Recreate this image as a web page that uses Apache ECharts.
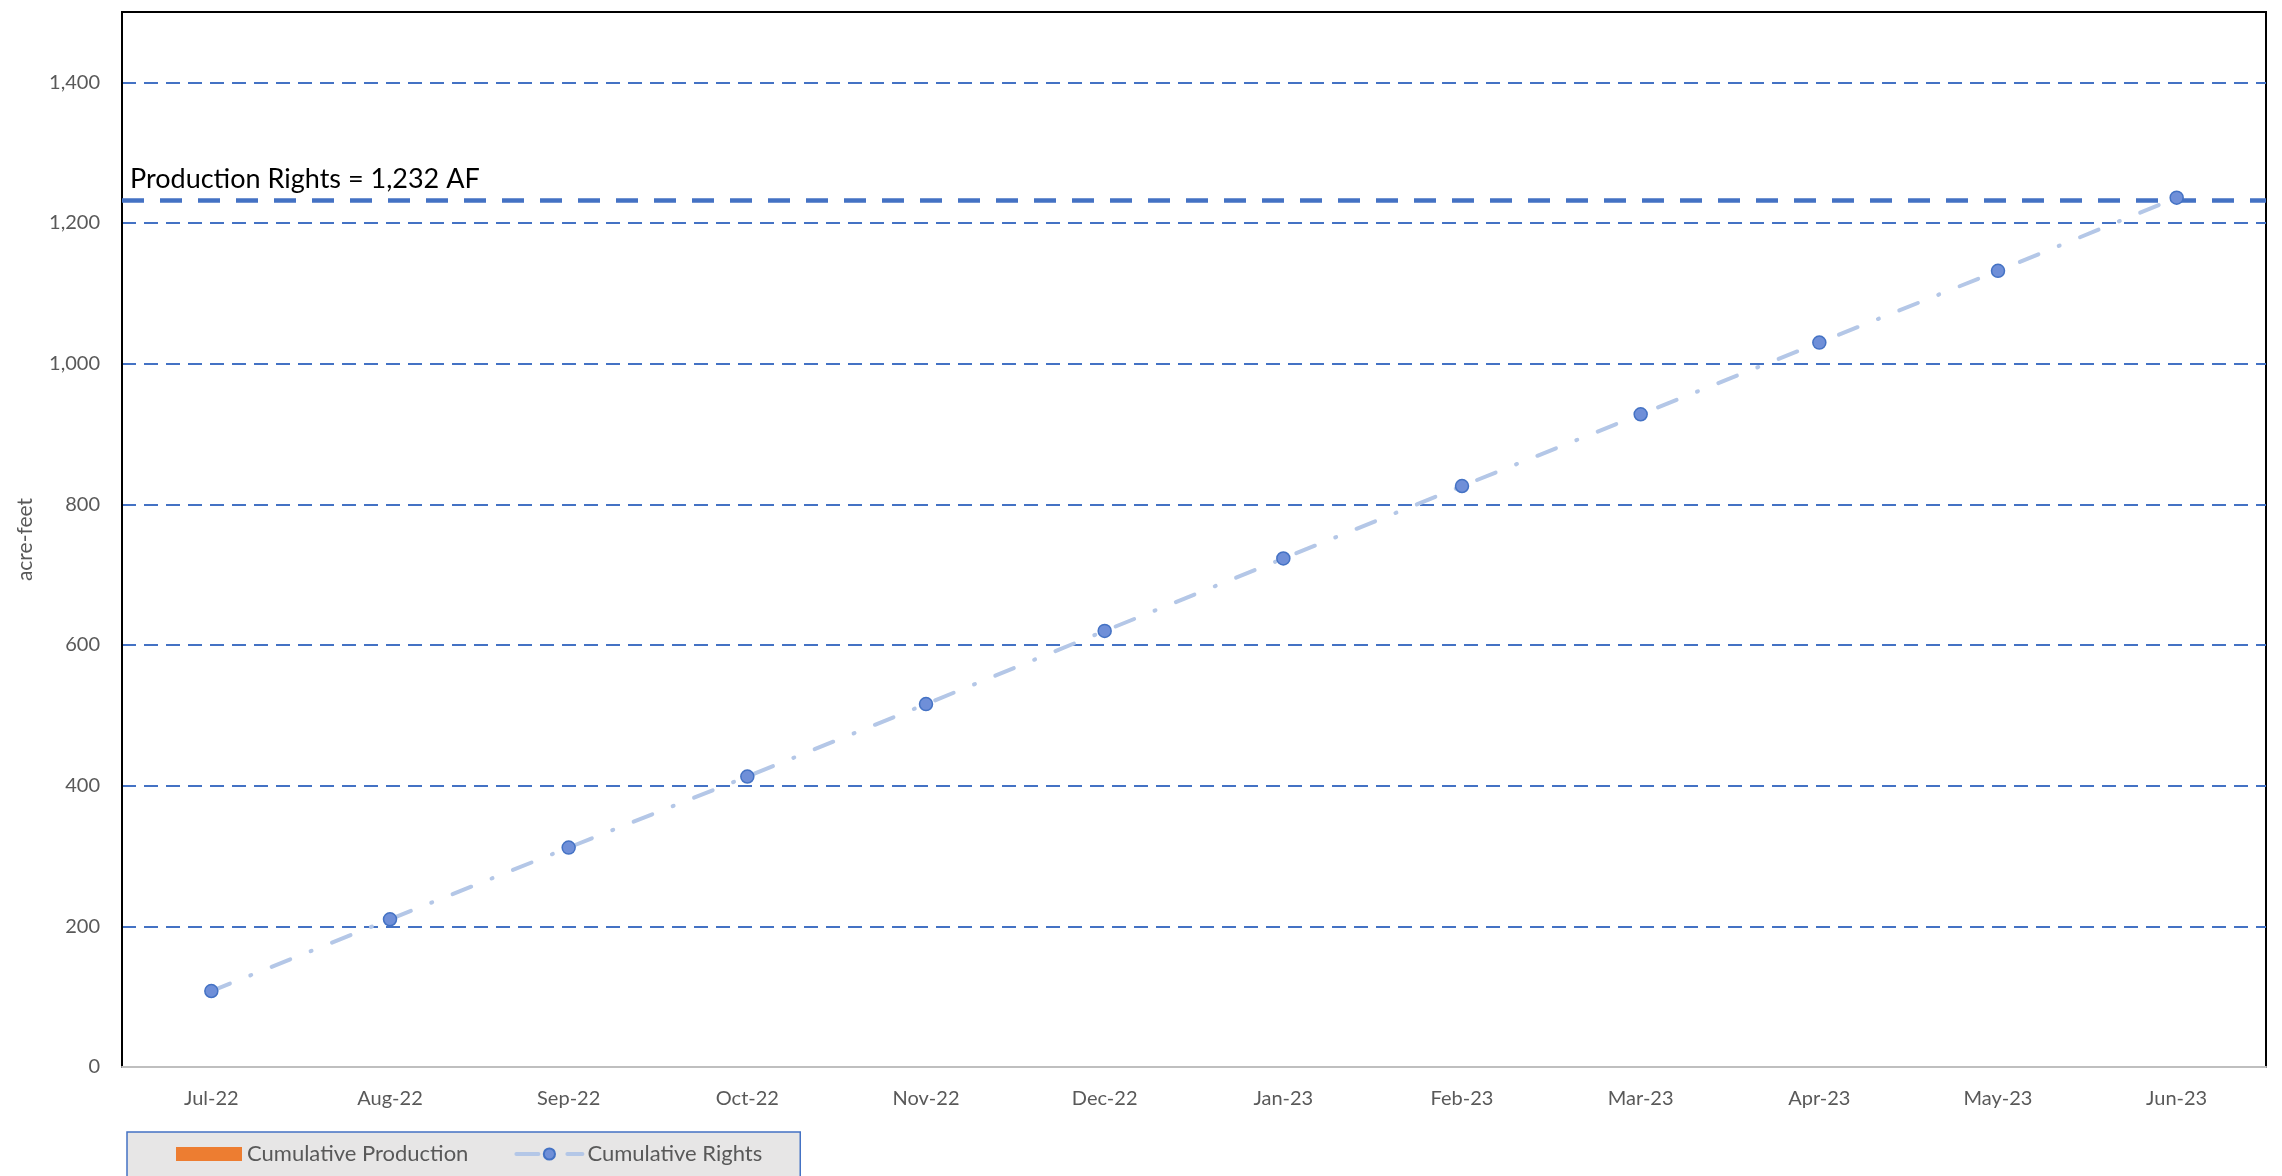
<!DOCTYPE html>
<html>
<head>
<meta charset="utf-8">
<title>Cumulative Rights</title>
<script src="https://cdn.jsdelivr.net/npm/echarts@6/dist/echarts.min.js"></script>
<style>
  html, body { margin: 0; padding: 0; background: #fff; }
  #container { width: 2282px; height: 1176px; }
</style>
</head>
<body>
<div id="container"></div>
<script>
// months on the x axis
var months = ['Jul-22', 'Aug-22', 'Sep-22', 'Oct-22', 'Nov-22', 'Dec-22',
              'Jan-23', 'Feb-23', 'Mar-23', 'Apr-23', 'May-23', 'Jun-23'];
// cumulative rights (acre-feet)
var cumulativeRights = [108, 210, 312, 413, 516, 620, 723, 826, 928, 1030, 1132, 1236];
// cumulative production has no values shown yet
var cumulativeProduction = [];
// production rights limit
var productionRights = 1232;

var dom = document.getElementById('container');
var myChart = echarts.init(dom);

var fontName = 'Lato, "Noto Sans", sans-serif';

option = {
    animation: false,
    textStyle: { fontFamily: fontName },
    grid: {
        left: 122,
        right: 16,
        top: 12,
        bottom: 109,
        show: true,
        borderColor: '#000',
        borderWidth: 2,
        backgroundColor: '#fff'
    },
    legend: {
        left: 127,
        top: 1132,
        padding: [11, 38, 20, 49],
        itemGap: 46,
        itemWidth: 66,
        itemHeight: 14,
        backgroundColor: '#e7e6e6',
        borderColor: '#4472c4',
        borderWidth: 1.5,
        textStyle: { color: '#595959', fontSize: 22, fontFamily: fontName },
        data: [
            { name: 'Cumulative Production', icon: 'rect' },
            { name: 'Cumulative Rights', lineStyle: { width: 4, type: [22, 14, 1, 14], cap: 'round' } }
        ]
    },
    xAxis: {
        type: 'category',
        data: months,
        axisLine: { lineStyle: { color: '#bfbfbf', width: 2 } },
        axisTick: { show: false },
        axisLabel: { color: '#595959', fontSize: 20, margin: 22 }
    },
    yAxis: {
        type: 'value',
        min: 0,
        max: 1500,
        interval: 200,
        name: 'acre-feet',
        nameLocation: 'middle',
        nameGap: 86,
        nameTextStyle: { color: '#595959', fontSize: 21 },
        axisLine: { show: true, lineStyle: { color: '#000', width: 2 } },
        axisTick: { show: false },
        axisLabel: {
            color: '#595959',
            fontSize: 20,
            margin: 22,
            showMaxLabel: false,
            formatter: function (v) {
                return v === 1500 ? '' : v.toLocaleString('en-US');
            }
        },
        splitLine: {
            showMinLine: false,
            showMaxLine: false,
            lineStyle: { color: '#4472c4', width: 2, type: [14, 8] }
        }
    },
    series: [
        {
            name: 'Cumulative Production',
            type: 'bar',
            data: cumulativeProduction,
            itemStyle: { color: '#ed7d31' }
        },
        {
            name: 'Cumulative Rights',
            type: 'line',
            data: cumulativeRights,
            symbol: 'circle',
            symbolSize: 13,
            itemStyle: { color: '#6f8fd8', borderColor: '#4472c4', borderWidth: 1.5 },
            lineStyle: { color: '#b4c7e7', width: 4, type: [20, 22, 1, 22], cap: 'round' },
            z: 5,
            markLine: {
                silent: true,
                symbol: 'none',
                data: [{ yAxis: productionRights }],
                lineStyle: { color: '#4472c4', width: 4.5, type: [22, 16] },
                label: {
                    position: 'insideStartTop',
                    formatter: 'Production Rights = 1,232 AF',
                    color: '#000',
                    fontSize: 27,
                    distance: [8, 8]
                },
                z: 3
            }
        }
    ]
};
myChart.setOption(option, true);
</script>
</body>
</html>
